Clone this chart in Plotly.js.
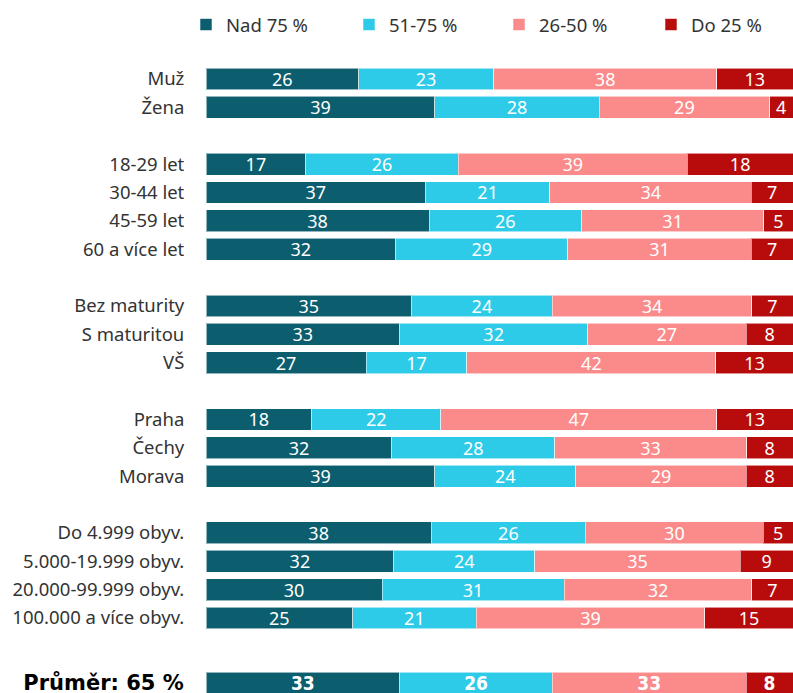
<!DOCTYPE html>
<html>
<head>
<meta charset="utf-8">
<script src="https://cdn.plot.ly/plotly-3.0.1.min.js"></script>
<style>html,body{margin:0;padding:0;background:#fff;}#chart{width:793px;height:693px;}</style>
</head>
<body>
<div id="chart"></div>
<script>
// Row order (top to bottom); blank strings are group separators
var categories = ['Muž','Žena',' ','18-29 let','30-44 let','45-59 let','60 a více let','  ',
  'Bez maturity','S maturitou','VŠ','   ','Praha','Čechy','Morava','    ',
  'Do 4.999 obyv.','5.000-19.999 obyv.','20.000-99.999 obyv.','100.000 a více obyv.'];
var rows = ['Muž','Žena','18-29 let','30-44 let','45-59 let','60 a více let',
  'Bez maturity','S maturitou','VŠ','Praha','Čechy','Morava',
  'Do 4.999 obyv.','5.000-19.999 obyv.','20.000-99.999 obyv.','100.000 a více obyv.'];
var seriesNames = ['Nad 75 %','51-75 %','26-50 %','Do 25 %'];
var nad75  = [26,39,17,37,38,32,35,33,27,18,32,39,38,32,30,25];
var s51_75 = [23,28,26,21,26,29,24,32,17,22,28,24,26,24,31,21];
var s26_50 = [38,29,39,34,31,31,34,27,42,47,33,29,30,35,32,39];
var do25   = [13,4,18,7,5,7,7,8,13,13,8,8,5,9,7,15];
var avgLabel = 'Průměr: 65 %';
var avgValues = [33,26,33,8];
var colors = ['#0c5e6e','#2ecbe9','#fb8a8a','#b80c0c'];

var series = [nad75, s51_75, s26_50, do25];
var legendIds = ['legend','legend2','legend3','legend4'];
var baseFont = 'Noto Sans, Open Sans, sans-serif';
var traces = [];
series.forEach(function(vals, i){
  traces.push({
    type:'bar', orientation:'h', name: seriesNames[i], legend: legendIds[i],
    y: rows, x: vals, text: vals.map(String), texttemplate:'%{text}',
    textposition:'inside', insidetextanchor:'middle', constraintext:'none', textangle:0,
    textfont:{family: baseFont, size:18, color:'#ffffff'},
    marker:{color: colors[i], line:{color:'rgba(255,255,255,0.55)', width:1}},
    hoverinfo:'skip', xaxis:'x', yaxis:'y'
  });
});
series.forEach(function(vals, i){
  traces.push({
    type:'bar', orientation:'h', name: seriesNames[i], showlegend:false,
    y: [avgLabel], x: [avgValues[i]], text: [String(avgValues[i])], texttemplate:'%{text}',
    textposition:'inside', insidetextanchor:'middle', constraintext:'none', textangle:0,
    textfont:{family:'Liberation Sans Narrow, DejaVu Sans Condensed, sans-serif', size:19, color:'#ffffff', weight:'bold'},
    marker:{color: colors[i], line:{color:'rgba(255,255,255,0.55)', width:1}},
    hoverinfo:'skip', xaxis:'x', yaxis:'y2'
  });
});

var H = 693, W = 793;
var legendX = [186, 349, 499, 651];
var layout = {
  width: W, height: H,
  margin:{l:0, r:0, t:0, b:0},
  paper_bgcolor:'#ffffff', plot_bgcolor:'#ffffff',
  barmode:'stack', barnorm:'percent', bargap:0.23,
  showlegend:true,
  xaxis:{domain:[206/W, 1], range:[0,100], showgrid:false, zeroline:false,
    showticklabels:false, showline:false, fixedrange:true},
  yaxis:{domain:[1-632.2/H, 1-64.8/H], type:'category', categoryorder:'array',
    categoryarray: categories, range:[categories.length-0.5, -0.5],
    showgrid:false, zeroline:false, showline:false,
    ticks:'outside', ticklen:17, tickcolor:'rgba(0,0,0,0)',
    tickfont:{family: baseFont, size:18.5, color:'#333333'}},
  yaxis2:{domain:[0, 1-669/H], type:'category', anchor:'x',
    range:[0.35, -0.49], showgrid:false, zeroline:false, showline:false,
    ticks:'outside', ticklen:17, tickcolor:'rgba(0,0,0,0)',
    tickfont:{family:'DejaVu Sans, sans-serif', size:21, color:'#000000', weight:'bold'}}
};
legendIds.forEach(function(id, i){
  layout[id] = {orientation:'h', x: legendX[i]/W, xanchor:'left', y:1-25/H, yanchor:'middle',
    font:{family: baseFont, size:18.5, color:'#333333'}, bgcolor:'rgba(0,0,0,0)'};
});
Plotly.newPlot('chart', traces, layout, {displayModeBar:false, staticPlot:true});
</script>
</body>
</html>
